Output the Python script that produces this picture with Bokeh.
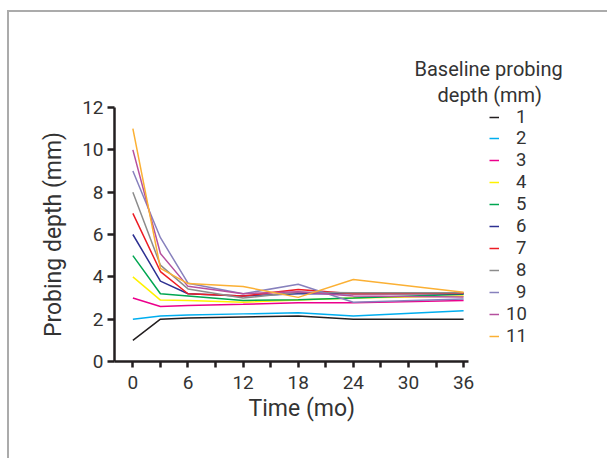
from bokeh.plotting import figure
from bokeh.models import FixedTicker, Legend, LegendItem, Title, Range1d
from bokeh.embed import file_html
from bokeh.resources import INLINE

# ---- data ----
months = [0, 3, 6, 12, 18, 24, 36]
baseline = ["1", "2", "3", "4", "5", "6", "7", "8", "9", "10", "11"]
depth_1 = [1.0, 2.0, 2.05, 2.1, 2.15, 2.0, 2.0]
depth_2 = [2.0, 2.15, 2.2, 2.25, 2.3, 2.15, 2.4]
depth_3 = [3.0, 2.6, 2.65, 2.7, 2.78, 2.78, 2.88]
depth_4 = [4.0, 2.9, 2.88, 2.8, 2.9, 3.0, 3.1]
depth_5 = [5.0, 3.2, 3.1, 2.88, 2.92, 3.0, 3.18]
depth_6 = [6.0, 3.8, 3.2, 3.1, 3.2, 3.2, 3.2]
depth_7 = [7.0, 4.25, 3.2, 3.1, 3.4, 3.2, 3.22]
depth_8 = [8.0, 4.55, 3.43, 3.0, 3.27, 3.25, 3.25]
depth_9 = [9.0, 5.85, 3.7, 3.2, 3.65, 2.8, 2.95]
depth_10 = [10.0, 5.1, 3.55, 3.2, 3.3, 3.1, 3.05]
depth_11 = [11.0, 4.4, 3.68, 3.54, 3.03, 3.87, 3.27]
series = [depth_1, depth_2, depth_3, depth_4, depth_5, depth_6,
          depth_7, depth_8, depth_9, depth_10, depth_11]
colors = ["#231f20", "#00aeef", "#ec008c", "#fff200", "#00a651", "#2e3192",
          "#ed1c24", "#8c8c8c", "#8781bd", "#b5509e", "#fbb034"]
x_major = [0, 6, 12, 18, 24, 30, 36]
x_minor = [3, 9, 15, 21, 27, 33]
y_ticks = [0, 2, 4, 6, 8, 10, 12]
legend_title_1 = "Baseline probing"
legend_title_2 = "depth (mm)"
x_title = "Time (mo)"
y_title = "Probing depth (mm)"

FONT = "Roboto"
TXT = "#333333"
GRAY = "#ababab"

p = figure(width=607, height=458, output_backend="svg", toolbar_location=None,
           x_range=Range1d(-2, 51.12), y_range=Range1d(0, 12),
           min_border_left=114, min_border_top=107, min_border_right=5,
           min_border_bottom=97,
           styles={
               "background-color": "white",
               "background-image": f"linear-gradient({GRAY}, {GRAY}), linear-gradient({GRAY}, {GRAY})",
               "background-size": "2px 100%, 100% 2px",
               "background-position": "7px 10px, 7px 10px",
               "background-repeat": "no-repeat",
           })
p.outline_line_color = None
p.grid.visible = False
p.background_fill_alpha = 0
p.border_fill_alpha = 0

renderers = []
for vals, col in zip(series, colors):
    r = p.line(months, vals, line_color=col, line_width=1.5)
    renderers.append(r)

for ax in (p.xaxis[0], p.yaxis[0]):
    ax.axis_line_width = 2.5
    ax.axis_line_color = "#231f20"
    ax.major_tick_line_color = "#231f20"
    ax.major_tick_line_width = 2.5
    ax.minor_tick_line_color = "#231f20"
    ax.minor_tick_line_width = 2.5
    ax.major_tick_in = 0
    ax.minor_tick_in = 0
    ax.major_label_text_font = FONT
    ax.major_label_text_font_size = "19px"
    ax.major_label_text_color = TXT
    ax.axis_label_text_font = FONT
    ax.axis_label_text_font_size = "23px"
    ax.axis_label_text_font_style = "normal"
    ax.axis_label_text_color = TXT

p.xaxis.ticker = FixedTicker(ticks=x_major, minor_ticks=x_minor)
p.xaxis.bounds = (-2, 36.5)
p.xaxis.major_tick_out = 6
p.xaxis.minor_tick_out = 6
p.xaxis.major_label_standoff = 8

p.yaxis.ticker = FixedTicker(ticks=y_ticks, minor_ticks=[])
p.yaxis.major_tick_out = 7
p.yaxis.minor_tick_out = 0
p.yaxis.major_label_standoff = 4
p.yaxis.axis_label = y_title
p.yaxis.axis_label_standoff = 12

# x-axis title placed under the axis span (not the full frame)
p.add_layout(Title(text=x_title, align="left", offset=134, standoff=3,
                   text_font=FONT, text_font_size="23px", text_font_style="normal",
                   text_color=TXT), "below")

# legend: one entry per legend box so that the pitch and right alignment match
LEG_X = 375          # px from frame left
FIRST_CENTER = 9.7   # px below frame top of first entry centre
PITCH = 21.93
FRAME_H = 254
HALF_ITEM = 10.85
for i, lab in enumerate(baseline):
    centre_from_top = FIRST_CENTER + PITCH * i
    bottom = FRAME_H - centre_from_top - HALF_ITEM
    lg = Legend(items=[LegendItem(label=lab, renderers=[renderers[i]])],
                location=(LEG_X, round(bottom)),
                label_standoff=17 if len(lab) == 1 else 7,
                glyph_width=10, glyph_height=14, label_height=14, spacing=0,
                padding=0, margin=0, border_line_color=None,
                background_fill_alpha=0, label_text_font=FONT,
                label_text_font_size="18.5px", label_text_color=TXT)
    p.add_layout(lg, "center")

# legend title (two lines, each centred over the legend)
p.add_layout(Title(text=legend_title_2, align="left", offset=323, standoff=1,
                   text_font=FONT, text_font_size="20px", text_font_style="normal",
                   text_color=TXT), "above")
p.add_layout(Title(text=legend_title_1, align="left", offset=300, standoff=0,
                   text_font=FONT, text_font_size="20px", text_font_style="normal",
                   text_color=TXT), "above")

open("out.html", "w").write(file_html(p, INLINE))
